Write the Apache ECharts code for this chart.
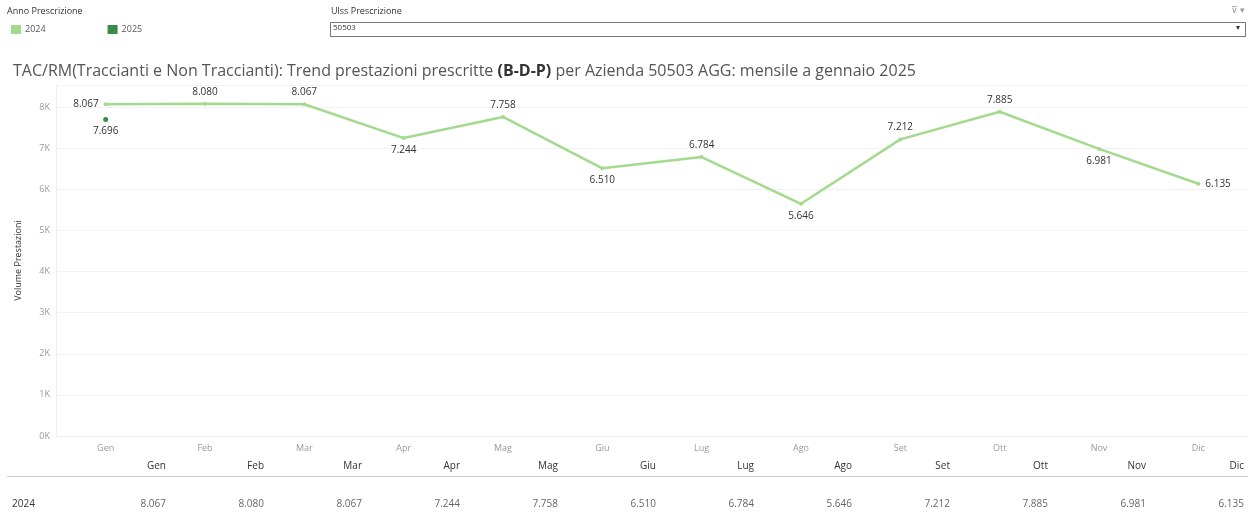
<!DOCTYPE html>
<html><head><meta charset="utf-8">
<script src="https://cdn.jsdelivr.net/npm/echarts@6/dist/echarts.min.js"></script>
<style>html,body{margin:0;padding:0;background:#fff}#c{width:1248px;height:512px}</style>
</head><body><div id="c"></div>
<script>
const months = ['Gen','Feb','Mar','Apr','Mag','Giu','Lug','Ago','Set','Ott','Nov','Dic'];
const values2024 = [8067,8080,8067,7244,7758,6510,6784,5646,7212,7885,6981,6135];
const values2025 = [7696];
const yTicks = [0,1000,2000,3000,4000,5000,6000,7000,8000];

const labelPos2024 = ['left','top','top','bottom','top','bottom','top','bottom','top','top','bottom','right'];
const FONT = '"Open Sans", "Noto Sans", sans-serif';
const fmt = v => v.toLocaleString('de-DE');

const chart = echarts.init(document.getElementById('c'), null, {renderer:'canvas'});

const graphics = [];
graphics.push({type:'text', left:331, top:7, style:{text:'Ulss Prescrizione', font:'9px '+FONT, fill:'#333'}});
graphics.push({type:'rect', shape:{x:330.5, y:22.5, width:915, height:14}, style:{fill:'#fff', stroke:'#777', lineWidth:1}});
graphics.push({type:'text', left:333, top:24, style:{text:'50503', font:'8px '+FONT, fill:'#333'}});
graphics.push({type:'text', left:1236, top:24, style:{text:'▾', font:'8px '+FONT, fill:'#333'}});
graphics.push({type:'text', left:1231, top:6, style:{text:'⊽ ▾', font:'9px '+FONT, fill:'#999'}});
graphics.push({type:'text', left:7, top:7, style:{text:'Anno Prescrizione', font:'9px '+FONT, fill:'#333'}});

const colRight = i => 166 + i*98;
months.forEach((m,i)=>{
  graphics.push({type:'text', x:colRight(i), y:466, style:{text:m, font:'10px '+FONT, fill:'#333', align:'right', verticalAlign:'middle'}});
  graphics.push({type:'text', x:colRight(i), y:504, style:{text:fmt(values2024[i]), font:'10px '+FONT, fill:'#666', align:'right', verticalAlign:'middle'}});
});
graphics.push({type:'text', x:12, y:504, style:{text:'2024', font:'10px '+FONT, fill:'#333', verticalAlign:'middle'}});
graphics.push({type:'line', shape:{x1:7, y1:476.5, x2:1248, y2:476.5}, style:{stroke:'#ccc', lineWidth:1}});

chart.setOption({
  animation:false,
  textStyle:{fontFamily:FONT},
  title:{
    left:8, top:58,
    text:'{a|TAC/RM(Traccianti e Non Traccianti): Trend prestazioni prescritte }{b|(B-D-P)}{a| per Azienda 50503 AGG: mensile a gennaio 2025}',
    textStyle:{fontWeight:'normal', rich:{
      a:{fontSize:16, color:'#555', fontWeight:'normal', fontFamily:FONT},
      b:{fontSize:16, color:'#333', fontWeight:'bold', fontFamily:FONT}
    }}
  },
  legend:{
    left:6, top:20, itemWidth:10, itemHeight:9, itemGap:62, icon:'rect',
    textStyle:{fontSize:9, color:'#555', padding:[0,0,0,-1]},
    data:['2024','2025']
  },
  grid:{left:56, right:0, top:85, bottom:76},
  xAxis:{
    type:'category', data:months, boundaryGap:true,
    axisLine:{show:true, lineStyle:{color:'#eee'}},
    axisTick:{show:false},
    axisLabel:{color:'#999', fontSize:9, margin:8}
  },
  yAxis:{
    type:'value', min:0, max:8535, interval:1000,
    name:'Volume Prestazioni', nameLocation:'middle', nameGap:33, nameRotate:90,
    nameTextStyle:{fontSize:9, color:'#333'},
    axisLine:{show:true, lineStyle:{color:'#eee'}},
    axisTick:{show:false},
    axisLabel:{color:'#999', fontSize:9, margin:6, formatter:v => (v%1000===0 ? (v/1000)+'K' : '')},
    splitLine:{lineStyle:{color:'#f2f2f2'}}
  },
  series:[
    {
      name:'2024', type:'line', data:values2024.map((v,i)=>({value:v, label:{position:labelPos2024[i]}})),
      itemStyle:{color:'#a3da8e'},
      lineStyle:{color:'#a3da8e', width:2.5},
      symbol:'circle', symbolSize:4, showSymbol:true,
      label:{show:true, fontSize:10, color:'#333', distance:5, formatter:p=>fmt(p.value)},
      clip:false
    },
    {
      name:'2025', type:'line', data:values2025,
      itemStyle:{color:'#3a8c47'},
      symbol:'circle', symbolSize:5,
      label:{show:true, position:'bottom', fontSize:10, color:'#333', distance:4, formatter:p=>fmt(p.value)}
    }
  ],
  graphic:graphics
});
</script></body></html>
